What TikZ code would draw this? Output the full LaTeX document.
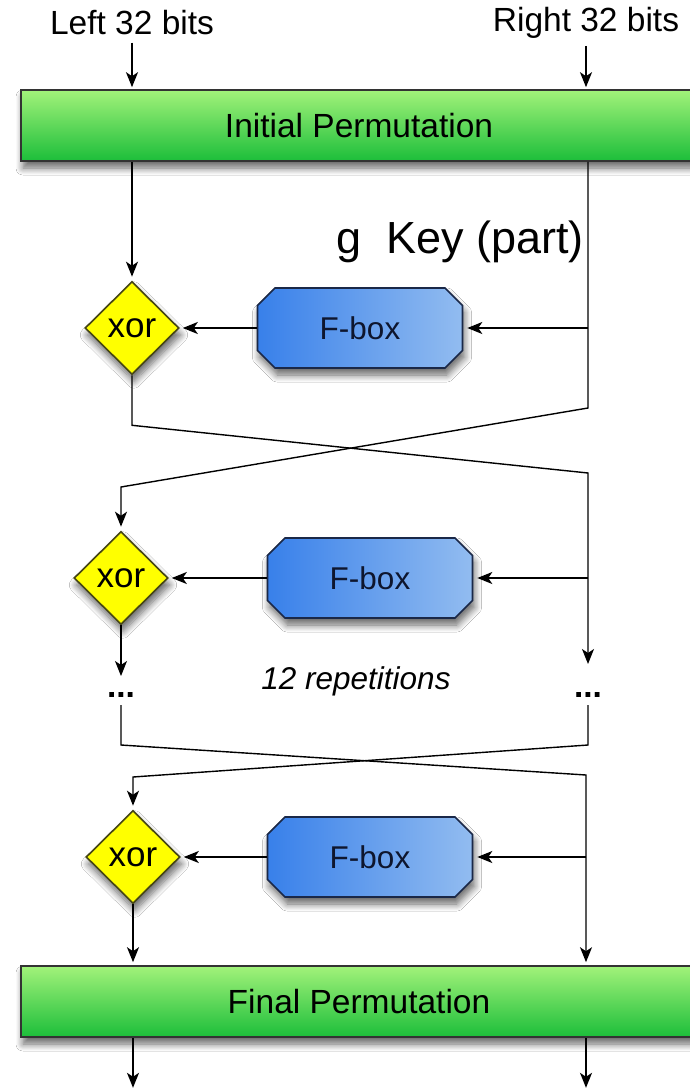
\documentclass[tikz,border=0pt]{standalone}
\usepackage{fontspec}
\setmainfont{Liberation Sans}
\usetikzlibrary{shapes.geometric,shapes.misc,arrows.meta,shadows.blur}

\definecolor{permtop}{RGB}{162,242,122}
\definecolor{permbot}{RGB}{28,190,58}
\definecolor{fleft}{RGB}{56,128,234}
\definecolor{fright}{RGB}{146,188,240}
\definecolor{fline}{RGB}{26,40,72}
\definecolor{ftext}{RGB}{14,22,46}
\definecolor{xorfill}{RGB}{255,255,0}
\definecolor{xorline}{RGB}{70,70,20}

\tikzset{
  softshadow/.style={blur shadow={shadow xshift=2pt, shadow yshift=-7pt,
      shadow blur radius=7pt, shadow blur steps=8, shadow opacity=60}},
  permbox/.style={draw=black!80, line width=1.6pt, top color=permtop,
    bottom color=permbot, minimum width=676pt, minimum height=71pt,
    font=\fontsize{33.5}{40}\selectfont, softshadow},
  fbox/.style={chamfered rectangle, chamfered rectangle xsep=14pt,
    draw=fline, line width=1.6pt, left color=fleft, right color=fright,
    minimum width=205pt, minimum height=80pt, text=ftext,
    font=\fontsize{31.5}{36}\selectfont, softshadow},
  xorgate/.style={diamond, draw=xorline, line width=1.6pt, fill=xorfill,
    minimum width=94pt, minimum height=93pt, inner sep=0pt,
    font=\fontsize{35}{40}\selectfont, softshadow},
  bits/.style={font=\fontsize{33.5}{40}\selectfont, inner sep=2pt},
  wire/.style={line width=1.4pt, line join=miter},
  arr/.style={wire, -{Stealth[length=15pt, width=12pt, inset=4pt]}},
}

\begin{document}
\begin{tikzpicture}[x=1pt, y=-1pt]
  \clip (0,0) rectangle (690,1092);
  \fill[white] (0,0) rectangle (690,1092);

  % the two halves and the permutations around the rounds
  \node[bits] (lin) at (132,23) {Left 32 bits};
  \node[bits] (rin) at (586,23) {Right 32 bits};
  \node[permbox] (ip) at (359,125.5) {Initial Permutation};
  \node[permbox] (fp) at (359,1001.5) {Final Permutation};

  % round 1
  \node[xorgate] (x1) at (132,328) {xor};
  \node[fbox] (f1) at (360,328) {F-box};
  \node[anchor=base west, inner sep=0pt, font=\fontsize{45}{54}\selectfont]
    (key) at (336,253) {g\ \ Key (part)};

  % round 2 and the skipped rounds
  \node[xorgate] (x2) at (121,578) {xor};
  \node[fbox] (f2) at (370,578) {F-box};
  \node[bits, anchor=base, font=\fontsize{33.5}{40}\selectfont\bfseries]
    (dl) at (121,697) {...};
  \node[bits, anchor=base, font=\fontsize{33.5}{40}\selectfont\bfseries]
    (dr) at (588,697) {...};
  \node[bits, font=\fontsize{31.5}{36}\selectfont\itshape] (rep) at (356,681)
    {12 repetitions};

  % last round
  \node[xorgate] (x3) at (133,857) {xor};
  \node[fbox] (f3) at (370,857) {F-box};

  % bends where the halves swap
  \coordinate (k1) at (588,408);
  \coordinate (k2) at (121,487);
  \coordinate (j2) at (588,473);
  \coordinate (m1) at (121,745);
  \coordinate (m2) at (586,775);
  \coordinate (m3) at (588,745);
  \coordinate (m4) at (133,777);

  % inputs
  \draw[arr, shorten <=5pt, shorten >=2pt] (lin) -- (lin |- ip.north);
  \draw[arr, shorten <=5pt, shorten >=2pt] (rin) -- (rin |- ip.north);

  % round 1 and the first swap
  \draw[arr, shorten >=4pt] (ip.south -| x1) -- (x1.north);
  \draw[arr, shorten >=4pt] (ip.south -| k1) -- (k1) -- (k2) -- (x2.north);
  \draw[arr, shorten >=4pt] (f1.east -| k1) -- (f1.east);
  \draw[arr, shorten >=3pt] (f1.west) -- (x1.east);
  \draw[arr] (x1.south) -- ++(0,50) -- (j2) -- ([yshift=33pt]dr.base);

  % round 2
  \draw[arr, shorten >=4pt] (f2.east -| j2) -- (f2.east);
  \draw[arr, shorten >=3pt] (f2.west) -- (x2.east);
  \draw[arr] (x2.south) -- ([yshift=21pt]dl.base);

  % second swap, round 3
  \draw[arr, shorten >=3pt] ([yshift=-8pt]dl.base) -- (m1) -- (m2)
    -- (m2 |- fp.north);
  \draw[arr, shorten >=4pt] ([yshift=-8pt]dr.base) -- (m3) -- (m4)
    -- (x3.north);
  \draw[arr, shorten >=4pt] (f3.east -| m2) -- (f3.east);
  \draw[arr, shorten >=3pt] (f3.west) -- (x3.east);
  \draw[arr, shorten >=3pt] (x3.south) -- (x3.south |- fp.north);

  % outputs
  \draw[arr] (fp.south -| x3) -- ++(0,50);
  \draw[arr] (fp.south -| m2) -- ++(0,50);
\end{tikzpicture}
\end{document}
